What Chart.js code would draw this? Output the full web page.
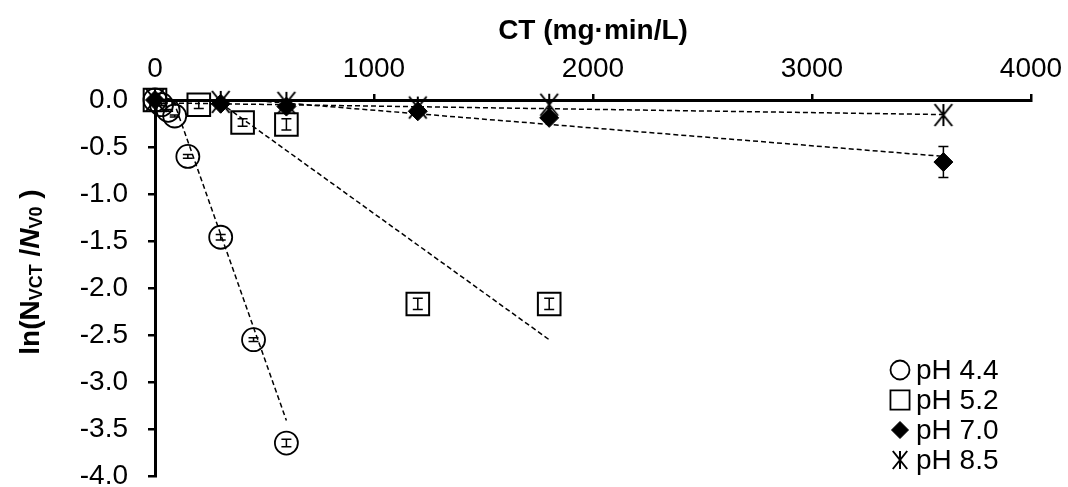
<!DOCTYPE html>
<html lang="en">
<head>
  <meta charset="UTF-8" />
  <title>ln(Nvct/Nv0) vs CT</title>
  <script src="https://cdn.jsdelivr.net/npm/chart.js"></script>
  <style>
    html, body { margin: 0; padding: 0; background: #fff; }
    .chart-box { position: relative; width: 1068px; height: 487px; }
  </style>
</head>
<body>
  <div class="chart-box"><canvas id="ctChart"></canvas></div>

  <script>
    // values
    const ph44X = [0, 30, 60, 90, 150, 300, 450, 600];
    const ph44Y = [0, -0.05, -0.11, -0.17, -0.6, -1.46, -2.55, -3.65];
    const ph44Err = [0, 0.01, 0.01, 0.01, 0.02, 0.03, 0.02, 0.04];

    const ph52X = [0, 200, 400, 600, 1200, 1800];
    const ph52Y = [0, -0.05, -0.24, -0.26, -2.17, -2.17];
    const ph52Err = [0, 0.04, 0.04, 0.06, 0.06, 0.06];

    const ph70X = [0, 300, 600, 1200, 1800, 3600];
    const ph70Y = [0, -0.04, -0.07, -0.12, -0.19, -0.66];
    const ph70Err = [0, 0, 0, 0, 0, 0.165];

    const ph85X = [0, 300, 600, 1200, 1800, 3600];
    const ph85Y = [0, -0.02, -0.03, -0.08, -0.05, -0.16];

    // linear trend lines (end points)
    const trend44X = [0, 600];
    const trend44Y = [0.55, -3.41];
    const trend52X = [0, 1800];
    const trend52Y = [0.47, -2.55];
    const trend70X = [0, 3600];
    const trend70Y = [0.08, -0.6];
    const trend85X = [0, 3600];
    const trend85Y = [-0.03, -0.155];

    const legendNames = ['pH 4.4', 'pH 5.2', 'pH 7.0', 'pH 8.5'];
    const xTicks = [0, 1000, 2000, 3000, 4000];
    const yTicks = [0, -0.5, -1, -1.5, -2, -2.5, -3, -3.5, -4];

    const FONT = 'Arial, "Liberation Sans", sans-serif';

    const pts = (xs, ys) => xs.map((x, i) => ({ x: x, y: ys[i] }));

    // asterisk marker: X plus a vertical stroke
    function makeStar(r, lw) {
      const c = document.createElement('canvas');
      const s = Math.ceil(2 * r + lw + 2);
      c.width = s; c.height = s;
      const g = c.getContext('2d');
      const m = s / 2;
      const dx = r * 0.8;
      g.strokeStyle = '#000';
      g.lineWidth = lw;
      g.beginPath();
      g.moveTo(m - dx, m - r); g.lineTo(m + dx, m + r);
      g.moveTo(m + dx, m - r); g.lineTo(m - dx, m + r);
      g.moveTo(m, m - r); g.lineTo(m, m + r);
      g.stroke();
      return c;
    }
    const starBig = makeStar(11, 2);
    const starSmall = makeStar(9, 2);

    const markerStyles = [
      { pointStyle: 'circle', radius: 11.5, borderWidth: 1.8, fill: 'rgba(0,0,0,0)' },
      { pointStyle: 'rect', radius: 16, borderWidth: 2, fill: 'rgba(0,0,0,0)' },
      { pointStyle: 'rectRot', radius: 9.5, borderWidth: 1, fill: '#000' },
      { pointStyle: starBig, radius: 11, borderWidth: 0, fill: '#000' }
    ];
    const legendMarkers = [
      { pointStyle: 'circle', radius: 9.5, borderWidth: 1.8, fill: 'rgba(0,0,0,0)' },
      { pointStyle: 'rect', radius: 13.5, borderWidth: 1.8, fill: 'rgba(0,0,0,0)' },
      { pointStyle: 'rectRot', radius: 8.5, borderWidth: 1, fill: '#000' },
      { pointStyle: starSmall, radius: 9, borderWidth: 0, fill: '#000' }
    ];

    function markerSet(label, data, errs, m, order) {
      return {
        label: label,
        data: data,
        errors: errs,
        showLine: false,
        pointStyle: m.pointStyle,
        pointRadius: m.radius,
        pointBorderWidth: m.borderWidth,
        pointBorderColor: '#000',
        pointBackgroundColor: m.fill,
        clip: false,
        order: order
      };
    }

    function trendSet(data) {
      return {
        type: 'line',
        data: data,
        showLine: true,
        borderColor: '#000',
        borderWidth: 1.5,
        borderDash: [5, 3],
        pointRadius: 0,
        fill: false,
        clip: 0,
        order: 10
      };
    }

    // small vertical error bars drawn through the scales
    const errorBars = {
      id: 'errorBars',
      afterDatasetsDraw(chart) {
        const ctx = chart.ctx;
        const xs = chart.scales.x, ys = chart.scales.y;
        ctx.save();
        ctx.strokeStyle = '#000';
        ctx.lineWidth = 1.5;
        chart.data.datasets.forEach(ds => {
          if (!ds.errors) return;
          ds.data.forEach((p, i) => {
            const e = ds.errors[i];
            if (!e) return;
            const px = xs.getPixelForValue(p.x);
            const top = ys.getPixelForValue(p.y + e);
            const bot = ys.getPixelForValue(p.y - e);
            ctx.beginPath();
            ctx.moveTo(px, top); ctx.lineTo(px, bot);
            ctx.moveTo(px - 5, top); ctx.lineTo(px + 5, top);
            ctx.moveTo(px - 5, bot); ctx.lineTo(px + 5, bot);
            ctx.stroke();
          });
        });
        ctx.restore();
      }
    };

    // legend in the lower right corner of the plot
    const cornerLegend = {
      id: 'cornerLegend',
      afterDraw(chart) {
        const ctx = chart.ctx;
        const mx = 900, tx = 916, y0 = 370, gap = 30;
        ctx.save();
        ctx.font = '28px ' + FONT;
        ctx.textBaseline = 'middle';
        ctx.textAlign = 'left';
        legendNames.forEach((name, i) => {
          const y = y0 + i * gap;
          const m = legendMarkers[i];
          ctx.strokeStyle = '#000';
          ctx.fillStyle = m.fill;
          ctx.lineWidth = m.borderWidth;
          Chart.helpers.drawPoint(ctx, { pointStyle: m.pointStyle, radius: m.radius, borderWidth: m.borderWidth, rotation: 0 }, mx, y);
          ctx.fillStyle = '#000';
          ctx.fillText(name, tx, y + 1);
        });
        ctx.restore();
      }
    };

    // y-axis title with subscripts
    const yTitle = {
      id: 'yTitle',
      afterDraw(chart) {
        const ctx = chart.ctx;
        const big = 'bold 28px ' + FONT;
        const bigIt = 'italic bold 28px ' + FONT;
        const small = 'bold 18px ' + FONT;
        const parts = [
          { t: 'ln(N', f: big, dy: 0 },
          { t: 'VCT', f: small, dy: 6 },
          { t: ' /', f: big, dy: 0 },
          { t: 'N', f: bigIt, dy: 0 },
          { t: 'V0', f: small, dy: 6 },
          { t: ' )', f: big, dy: 0 }
        ];
        ctx.save();
        let total = 0;
        parts.forEach(p => { ctx.font = p.f; p.w = ctx.measureText(p.t).width; total += p.w; });
        const cx = 31;
        const cy = 272;
        ctx.translate(cx, cy);
        ctx.rotate(-Math.PI / 2);
        ctx.fillStyle = '#000';
        ctx.textBaseline = 'middle';
        ctx.textAlign = 'left';
        let x = -total / 2;
        parts.forEach(p => {
          ctx.font = p.f;
          ctx.fillText(p.t, x, p.dy);
          x += p.w;
        });
        ctx.restore();
      }
    };

    new Chart(document.getElementById('ctChart'), {
      type: 'scatter',
      data: {
        datasets: [
          markerSet(legendNames[0], pts(ph44X, ph44Y), ph44Err, markerStyles[0], 4),
          markerSet(legendNames[1], pts(ph52X, ph52Y), ph52Err, markerStyles[1], 3),
          markerSet(legendNames[2], pts(ph70X, ph70Y), ph70Err, markerStyles[2], 2),
          markerSet(legendNames[3], pts(ph85X, ph85Y), null, markerStyles[3], 1),
          trendSet(pts(trend44X, trend44Y)),
          trendSet(pts(trend52X, trend52Y)),
          trendSet(pts(trend70X, trend70Y)),
          trendSet(pts(trend85X, trend85Y))
        ]
      },
      options: {
        responsive: true,
        maintainAspectRatio: false,
        animation: false,
        devicePixelRatio: 1,
        events: [],
        layout: { autoPadding: false, padding: { left: 0, right: 37, top: 0, bottom: 11 } },
        plugins: {
          legend: { display: false },
          tooltip: { enabled: false }
        },
        scales: {
          x: {
            type: 'linear',
            position: 'top',
            min: 0,
            max: 4000,
            afterBuildTicks: s => { s.ticks = xTicks.map(v => ({ value: v })); },
            ticks: {
              color: '#000',
              font: { family: FONT, size: 28 },
              padding: 8,
              maxRotation: 0,
              callback: v => String(v)
            },
            grid: { drawOnChartArea: false, color: '#000', lineWidth: 2.5, tickLength: 6 },
            border: { display: true, color: '#000', width: 3 },
            title: {
              display: true,
              text: 'CT (mg·min/L)',
              color: '#000',
              font: { family: FONT, size: 28, weight: 'bold' },
              padding: { top: 14, bottom: 0 }
            },
            afterFit: s => { s.height = 100; s.paddingLeft = 0; s.paddingRight = 0; }
          },
          y: {
            type: 'linear',
            position: 'left',
            min: -4,
            max: 0,
            afterBuildTicks: s => { s.ticks = yTicks.map(v => ({ value: v })); },
            ticks: {
              color: '#000',
              font: { family: FONT, size: 28, lineHeight: 1 },
              padding: 20,
              callback: v => v.toFixed(1)
            },
            grid: { drawOnChartArea: false, color: '#000', lineWidth: 2.5, tickLength: 7 },
            border: { display: true, color: '#000', width: 3 },
            title: { display: false },
            afterFit: s => { s.width = 155; s.paddingTop = 0; s.paddingBottom = 0; }
          }
        }
      },
      plugins: [errorBars, cornerLegend, yTitle]
    });
  </script>
</body>
</html>
